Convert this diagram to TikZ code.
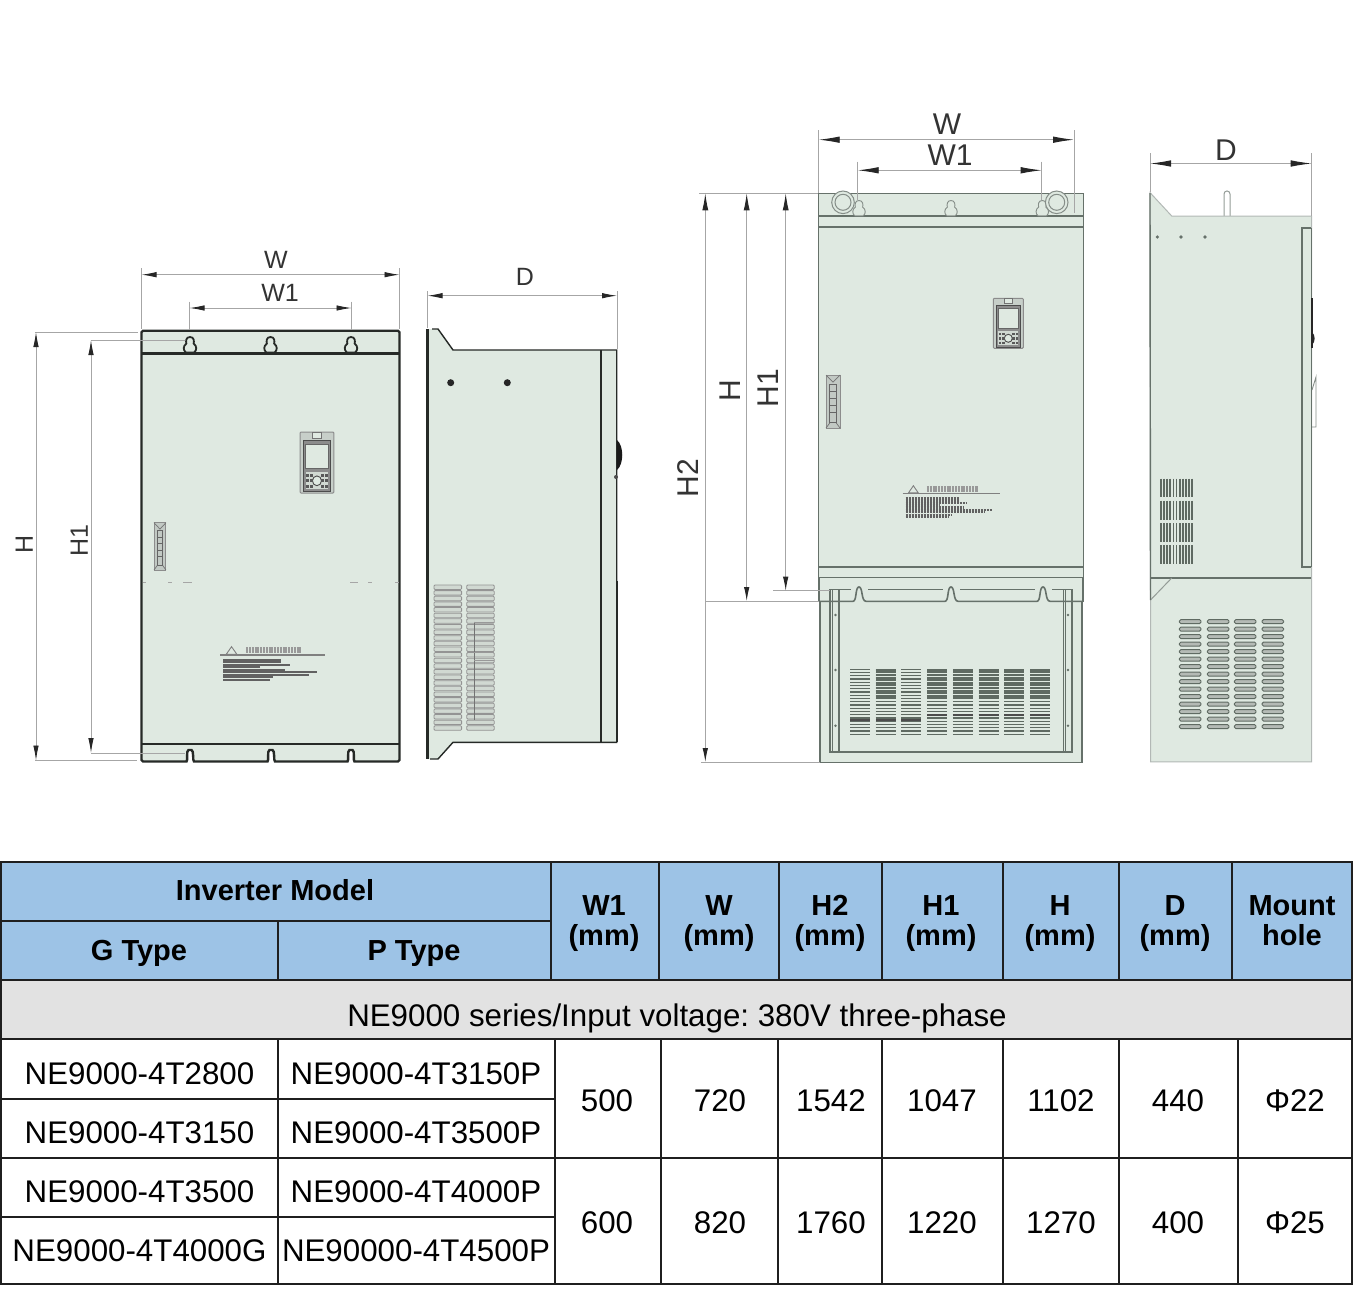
\documentclass[tikz,border=0pt]{standalone}
\usepackage{fontspec}
\setmainfont{Liberation Sans}
\usetikzlibrary{arrows.meta}
\definecolor{panel}{HTML}{DFE9E1}
\definecolor{headblue}{HTML}{9DC3E6}
\definecolor{rowgray}{HTML}{E2E2E2}
\definecolor{edgedark}{HTML}{262A27}
\definecolor{edgesoft}{HTML}{66716A}
\definecolor{dimgray}{HTML}{A6A6A6}
\definecolor{ventgray}{HTML}{5F6A62}
\tikzset{
  cell/.style = {font=\fontsize{31.3}{36}\selectfont\frenchspacing, inner sep=0pt, text height=22.4pt, text depth=0pt, text=black},
  headcell/.style = {font=\fontsize{29}{30.5}\selectfont\bfseries, inner sep=0pt, align=center, text=black},
  headone/.style = {headcell, text height=20.8pt, text depth=0pt},
  smalllab/.style = {font=\fontsize{25}{25}\selectfont, inner sep=0pt, text height=17.9pt, text depth=0pt, text=black!80},
  biglab/.style = {font=\fontsize{30}{30}\selectfont, inner sep=0pt, text height=21.5pt, text depth=0pt, text=black!80},
  dimthin/.style = {draw=dimgray, line width=0.9pt},
  dimsmall/.style = {dimthin, {Latex[length=15pt,width=5.5pt,color=black!85]}-{Latex[length=15pt,width=5.5pt,color=black!85]}},
  dimmid/.style = {dimthin, {Latex[length=17pt,width=6pt,color=black!85]}-{Latex[length=14pt,width=5.5pt,color=black!85]}},
  dimbig/.style = {dimthin, {Latex[length=21pt,width=6.5pt,color=black!85]}-{Latex[length=21pt,width=6.5pt,color=black!85]}},
  grid/.style = {draw=black!88, line width=2pt},
  hardline/.style = {draw=edgedark, line width=2.4pt},
  softline/.style = {draw=edgesoft, line width=1.2pt},
  keyhole/.pic = {
    \path[pic actions] (0,0) .. controls (3,0) and (3,4) .. (2.6,6) .. controls (5,8) and (5,12) .. (3,14)
      -- (-3,14) .. controls (-5,12) and (-5,8) .. (-2.6,6) .. controls (-3,4) and (-3,0) .. (0,0) -- cycle;
  },
  keypad/.pic = {
    \draw[draw=black!45, fill=panel!75!gray, line width=1pt, rounded corners=1pt] (0,0) rectangle (30,50);
    \draw[draw=black!55, fill=panel, line width=0.8pt] (11,0) rectangle (19,5);
    \draw[draw=black!70, fill=black!45, line width=1pt] (3,7) rectangle (27,49);
    \draw[draw=black!60, fill=panel, line width=0.8pt] (5,10) rectangle (25,30);
    \fill[panel!85!gray] (5,33) rectangle (25,47);
    \draw[draw=black!70, fill=panel, line width=0.9pt] (15,40) circle[radius=4];
    \foreach \kx in {6.5,10,20,23.5}
      \foreach \ky in {35.5,40,44.5}
        \fill[black!65] (\kx-1.3,\ky-1.2) rectangle (\kx+1.3,\ky+1.2);
  },
  doorgrip/.pic = {
    \draw[draw=black!45, fill=panel!70!gray, line width=1pt] (0,0) rectangle (13,52);
    \draw[draw=black!55, line width=0.7pt] (0,0) -- (6.5,7) -- (13,0);
    \draw[draw=black!60, line width=1.1pt] (3.5,9) rectangle (9.5,47);
    \foreach \gy in {16,23,30,37}
      \draw[draw=black!60, line width=0.9pt] (3.5,\gy) -- (9.5,\gy);
    \draw[draw=black!55, line width=0.7pt] (0,52) -- (3.5,47) (13,52) -- (9.5,47);
  },
  warnlabel/.pic = {
    \draw[draw=black!50, line width=0.9pt] (11,-8) -- (16,-0.5) -- (6,-0.5) -- cycle;
    \draw[draw=black!40, line width=6pt, dash pattern=on 2pt off 0.8pt] (25,-4.5) -- (78,-4.5);
    \draw[draw=black!50, line width=1.6pt] (0,0) -- (100,0);
    \foreach \ly/\lx in {5/58, 7.5/58, 10/66, 12.5/38, 15/62, 17.5/92, 20/85, 22.5/50, 25/48}
      \draw[draw=black!62, line width=2.2pt, dash pattern=on 2.4pt off 0.6pt] (3,\ly) -- (\lx,\ly);
  },
}
\begin{document}
\begin{tikzpicture}[x=1pt, y=-1pt]
\useasboundingbox (0,0) rectangle (1353,1306);

% left front view
\draw[hardline, fill=panel, rounded corners=1.5pt] (141.5,330.7) -- (399.5,330.7) -- (399.5,761.5)
  -- (356,761.5) .. controls (353,761.5) and (355,750) .. (351,750) .. controls (347,750) and (349,761.5) .. (346,761.5)
  -- (276.5,761.5) .. controls (273.5,761.5) and (275,750) .. (271,750) .. controls (267,750) and (269,761.5) .. (266,761.5)
  -- (195.5,761.5) .. controls (192.5,761.5) and (194,750) .. (190,750) .. controls (186,750) and (188,761.5) .. (185,761.5)
  -- (141.5,761.5) -- cycle;
\draw[hardline] (141.5,353.3) -- (399.5,353.3);
\draw[hardline] (141.5,744) -- (399.5,744);
\foreach \kx in {190,270.5,351}
  \path pic[draw=edgedark, line width=1.8pt, fill=panel, xscale=1.4, yscale=1.1] at (\kx,337) {keyhole};
\path pic[xscale=1.13, yscale=1.22] at (300,432) {keypad};
\path pic[xscale=0.92, yscale=0.91] at (154,522.7) {doorgrip};
\path pic[xscale=1.05, yscale=1] at (220,654.7) {warnlabel};
\foreach \dx/\dw in {143/3,168/4,183/9,350/8,368/4,395/4}
  \draw[draw=black!35, line width=0.8pt] (\dx,582.7) -- ++(\dw,0);

% left front dimensions
\coordinate (lwa) at (141.5,274.7);
\coordinate (lwb) at (399.5,274.7);
\coordinate (lwc) at (189.5,308);
\coordinate (lwd) at (351.5,308);
\coordinate (lha) at (36,332);
\coordinate (lhb) at (36,760.5);
\coordinate (lhc) at (91,340);
\coordinate (lhd) at (91,753);
\draw[dimthin] (141.5,268) -- (141.5,329) (399.5,268) -- (399.5,329);
\draw[dimthin] (189.5,301.5) -- (189.5,330) (351.5,301.5) -- (351.5,330);
\draw[dimthin] (35,332) -- (138,332) (35,760.5) -- (137,760.5);
\draw[dimthin] (91,340) -- (185,340) (91,753) -- (185,753);
\draw[dimsmall] (lwa) -- (lwb);
\draw[dimsmall] (lwc) -- (lwd);
\draw[dimsmall] (lha) -- (lhb);
\draw[dimsmall] (lhc) -- (lhd);
\node[smalllab] (lw) at (276,260) {W};
\node[smalllab] (lw1) at (280,293) {W1};
\node[smalllab, rotate=90] (lh) at (24,544) {H};
\node[smalllab, rotate=90] (lh1) at (79,541) {H1};

% left side view
\fill[panel] (427.3,329) -- (438,329) -- (453,350) -- (616.7,350) -- (616.7,742.3) -- (453,742.3) -- (438,759) -- (427.3,759) -- cycle;
\foreach \cx in {434,466.7}
  \foreach \n in {0,...,25}
    \draw[draw=black!42, fill=panel!85!gray, line width=0.8pt, rounded corners=1pt] (\cx,{585+5.63*\n}) rectangle (\cx+27.6,{589.5+5.63*\n});
\draw[draw=black!55, line width=1pt] (474.3,621.7) -- (474.3,720);
\draw[draw=black!40, line width=1pt] (474.3,622) -- (494,622) (474.3,652) -- (494,652) (474.3,660) -- (494,660);
\draw[draw=edgedark, line width=1.4pt] (432,329) -- (438,329) -- (453,350) -- (616.7,350) -- (616.7,742.3) -- (453,742.3) -- (438,759) -- (430,759);
\draw[hardline] (427.5,329) -- (427.5,759);
\draw[draw=edgedark, line width=1.3pt] (601,350) -- (601,742.3);
\draw[draw=edgedark, line width=2.2pt] (617,581) -- (617,742.3);
\fill[black!90] (617,440) .. controls (624,446) and (624,464) .. (617,470) -- cycle;
\fill[black!70] (616,477) circle[radius=2];
\fill[black!85] (450.7,382.7) circle[radius=3.5];
\fill[black!85] (507.3,382.7) circle[radius=3.5];

% left side dimensions
\coordinate (lda) at (427.5,295.7);
\coordinate (ldb) at (617,295.7);
\draw[dimthin] (427.5,291) -- (427.5,328) (617,291) -- (617,349);
\draw[dimsmall] (lda) -- (ldb);
\node[smalllab] (ld) at (525,277) {D};

% right front view
\draw[softline, fill=panel] (820,601) rectangle (1082,762.3);
\draw[softline, fill=panel] (818.7,193.3) rectangle (1083.3,601.3);
\draw[softline] (818.7,216) -- (1083.3,216);
\draw[draw=edgesoft, line width=2pt] (818.7,227.3) -- (1083.3,227.3);
\draw[draw=edgesoft, line width=2pt] (818.7,566.7) -- (1083.3,566.7);
\draw[softline] (818.7,577.3) -- (1083.3,577.3);
\draw[draw=edgesoft, line width=2pt] (819,577.3) -- (819,601.3) (1083,577.3) -- (1083,601.3);
\fill[panel] (820,602) rectangle (1081,600);
\draw[draw=edgesoft, line width=1.6pt] (819,601.3)
  -- (853,601.3) .. controls (857,601.3) and (855,587) .. (859,587) .. controls (863,587) and (861,601.3) .. (866,601.3)
  -- (945,601.3) .. controls (949,601.3) and (947,587) .. (951,587) .. controls (955,587) and (953,601.3) .. (958,601.3)
  -- (1037,601.3) .. controls (1041,601.3) and (1039,587) .. (1043,587) .. controls (1047,587) and (1045,601.3) .. (1050,601.3)
  -- (1083,601.3);
\draw[draw=edgesoft, line width=1.6pt] (830,589.3) -- (851,589.3) (868,589.3) -- (943,589.3) (960,589.3) -- (1035,589.3) (1052,589.3) -- (1071.7,589.3);
\draw[draw=edgesoft, line width=1.6pt] (830,589.3) -- (830,751.7) -- (1071.7,751.7) -- (1071.7,589.3);
\draw[draw=edgesoft, line width=1.2pt] (832.7,589.3) -- (832.7,751.7) (839,589.3) -- (839,751.7);
\draw[draw=edgesoft, line width=1.2pt] (1063.3,589.3) -- (1063.3,751.7) (1065.6,589.3) -- (1065.6,751.7);
\foreach \gy in {615,670,725.7} {
  \fill[edgesoft] (835.5,\gy) circle[radius=1.4];
  \fill[edgesoft] (1068,\gy) circle[radius=1.4];
}
\foreach \col in {0,...,7}
  \foreach \n in {0,...,20}
    \draw[draw=ventgray, line width=1.3pt] ({850+25.73*\col},{669.3+3.25*\n}) -- ++(20,0);
\foreach \col in {1,3,4,5,6,7}
  \foreach \n in {0,...,8}
    \draw[draw=ventgray, line width=1.3pt] ({850+25.73*\col},{671+3.25*\n}) -- ++(20,0);
\foreach \col in {0,1,2}
  \draw[draw=black!70, line width=2pt] ({850+25.73*\col},720) -- ++(20,0);
\foreach \col in {3,...,7}
  \draw[draw=black!70, line width=2pt] ({850+25.73*\col},715) -- ++(20,0);
\foreach \kx in {859,951,1042.3}
  \path pic[draw=edgesoft!80, line width=0.9pt, fill=panel, xscale=1.4, yscale=1.1] at (\kx,200.5) {keyhole};
\foreach \rx in {843,1056.7} {
  \draw[draw=edgesoft!80, line width=1pt, fill=panel] (\rx,202.3) circle[radius=11.3];
  \draw[draw=edgesoft!80, line width=1pt] (\rx,202.3) circle[radius=8];
}
\path pic at (993.3,298.3) {keypad};
\path pic[xscale=1.08, yscale=1.02] at (826,375) {doorgrip};
\path pic[xscale=0.97, yscale=0.95] at (902.7,493.3) {warnlabel};

% right front dimensions
\coordinate (rwa) at (818.7,139.7);
\coordinate (rwb) at (1074,139.7);
\coordinate (rwc) at (857.7,170.3);
\coordinate (rwd) at (1041.7,170.3);
\coordinate (rha) at (705.3,193.3);
\coordinate (rhb) at (705.3,762);
\coordinate (rhc) at (746.7,193.3);
\coordinate (rhd) at (746.7,601);
\coordinate (rhe) at (785.7,193.3);
\coordinate (rhf) at (785.7,590.7);
\draw[dimthin] (818.7,130) -- (818.7,193) (1074,130) -- (1074,213);
\draw[dimthin] (857.7,161.7) -- (857.7,200) (1041.7,161.7) -- (1041.7,200);
\draw[dimthin] (699,193.3) -- (818,193.3) (701,762.5) -- (820,762.5);
\draw[dimthin] (705.3,601.3) -- (819,601.3) (773,590.7) -- (830,590.7);
\draw[dimbig] (rwa) -- (rwb);
\draw[dimbig] (rwc) -- (rwd);
\draw[dimmid] (rha) -- (rhb);
\draw[dimmid] (rhc) -- (rhd);
\draw[dimmid] (rhe) -- (rhf);
\node[biglab] (rw) at (947,124) {W};
\node[biglab] (rw1) at (950,155) {W1};
\node[biglab, rotate=90] (rh) at (730,391) {H};
\node[biglab, rotate=90] (rh1) at (768,388) {H1};
\node[biglab, rotate=90] (rh2) at (688,478) {H2};

% right side view
\draw[draw=edgesoft!70, line width=1pt] (1224,216) -- (1224,194) .. controls (1224,190) and (1230,190) .. (1230,194) -- (1230,216);
\draw[draw=edgesoft!50, line width=1pt, fill=panel] (1150,192.6) -- (1171.7,216) -- (1311.7,216) -- (1311.7,761.8) -- (1150.7,761.8) -- cycle;
\draw[draw=edgesoft, line width=1.6pt] (1150.5,578) -- (1311,578);
\draw[draw=edgesoft!70, line width=1pt] (1150.5,600) -- (1171.7,578);
\draw[draw=edgesoft, line width=1.4pt] (1150,193) -- (1150.5,600);
\draw[draw=edgesoft, line width=1.8pt] (1311,227.8) -- (1302.3,227.8) -- (1302.3,567) -- (1311,567);
\draw[draw=edgesoft, line width=1.2pt] (1311.7,227.8) -- (1311.7,567);
\draw[draw=black!85, line width=1.6pt] (1312,298) -- (1312,348);
\fill[black!85] (1312,332) .. controls (1315.5,335) and (1315.5,342) .. (1312,345) -- cycle;
\draw[draw=edgesoft!80, line width=0.9pt] (1312,390) -- (1316,377) -- (1316,427) -- (1312,427);
\foreach \dotx in {1157.3,1181,1205}
  \fill[edgesoft] (\dotx,237) circle[radius=1.8];
\foreach \blocky/\blockh in {478.6/18, 500.6/19.5, 523/19, 545/18.6}
  \foreach \n in {0,...,10}
    \draw[draw=ventgray, line width=1.7pt] ({1160.7+3.16*\n},\blocky) -- ++(0,\blockh);
\foreach \cx in {1179.3,1207.3,1234.3,1262}
  \foreach \n in {0,...,14}
    \draw[draw=ventgray, fill=panel!55!gray, line width=0.9pt, rounded corners=1.5pt] (\cx,{619.6+7.5*\n}) rectangle (\cx+21.7,{623.6+7.5*\n});

% right side dimensions
\coordinate (rda) at (1150,163.5);
\coordinate (rdb) at (1311.7,163.5);
\draw[dimthin] (1150,153) -- (1150,192) (1311.7,153) -- (1311.7,216);
\draw[dimbig] (rda) -- (rdb);
\node[biglab] (rd) at (1226,150) {D};

% table fills
\fill[headblue] (1,862) rectangle (1352,980);
\fill[rowgray] (1,980) rectangle (1352,1039);

% table rules
\draw[grid] (0,862) -- (1353,862);
\draw[grid] (1,921) -- (551,921);
\draw[grid] (0,980) -- (1353,980);
\draw[grid] (0,1039) -- (1353,1039);
\draw[grid] (1,1098.5) -- (555,1098.5);
\draw[grid] (0,1158) -- (1353,1158);
\draw[grid] (1,1217) -- (555,1217);
\draw[grid] (0,1284) -- (1353,1284);
\draw[grid] (1,862) -- (1,1284);
\draw[grid] (1352,862) -- (1352,1284);
\draw[grid] (278,921) -- (278,980);
\foreach \hx in {551,659,779,882,1002.5,1119,1232}
  \draw[grid] (\hx,862) -- (\hx,980);
\draw[grid] (278,1039) -- (278,1284);
\foreach \bx in {555,661,778,882,1002.5,1119,1238}
  \draw[grid] (\bx,1039) -- (\bx,1284);

% table head
\node[headone] (model) at (275,890) {Inverter Model};
\node[headone] (gtype) at (139,950) {G Type};
\node[headone] (ptype) at (414,950) {P Type};
\node[headcell] (hw1) at (604,923.5) {W1\\(mm)};
\node[headcell] (hw) at (719,923.5) {W\\(mm)};
\node[headcell] (hh2) at (830,923.5) {H2\\(mm)};
\node[headcell] (hh1) at (941,923.5) {H1\\(mm)};
\node[headcell] (hh) at (1060,923.5) {H\\(mm)};
\node[headcell] (hd) at (1175,923.5) {D\\(mm)};
\node[headcell] (hm) at (1292,920.5) {Mount\\hole};
\node[cell] (series) at (677,1015) {NE9000 series/Input voltage: 380V three-phase};

% table body
\node[cell] (g1) at (139.5,1073) {NE9000-4T2800};
\node[cell] (g2) at (139.5,1132) {NE9000-4T3150};
\node[cell] (g3) at (139.5,1191) {NE9000-4T3500};
\node[cell] (g4) at (139.5,1250) {NE9000-4T4000G};
\node[cell] (p1) at (416,1073) {NE9000-4T3150P};
\node[cell] (p2) at (416,1132) {NE9000-4T3500P};
\node[cell] (p3) at (416,1191) {NE9000-4T4000P};
\node[cell] (p4) at (416,1250) {NE90000-4T4500P};
\node[cell] (a1) at (607,1100) {500};
\node[cell] (a2) at (720,1100) {720};
\node[cell] (a3) at (831,1100) {1542};
\node[cell] (a4) at (942,1100) {1047};
\node[cell] (a5) at (1061,1100) {1102};
\node[cell] (a6) at (1178,1100) {440};
\node[cell] (a7) at (1295,1100) {Φ22};
\node[cell] (b1) at (607,1222) {600};
\node[cell] (b2) at (720,1222) {820};
\node[cell] (b3) at (831,1222) {1760};
\node[cell] (b4) at (942,1222) {1220};
\node[cell] (b5) at (1061,1222) {1270};
\node[cell] (b6) at (1178,1222) {400};
\node[cell] (b7) at (1295,1222) {Φ25};
\end{tikzpicture}
\end{document}
